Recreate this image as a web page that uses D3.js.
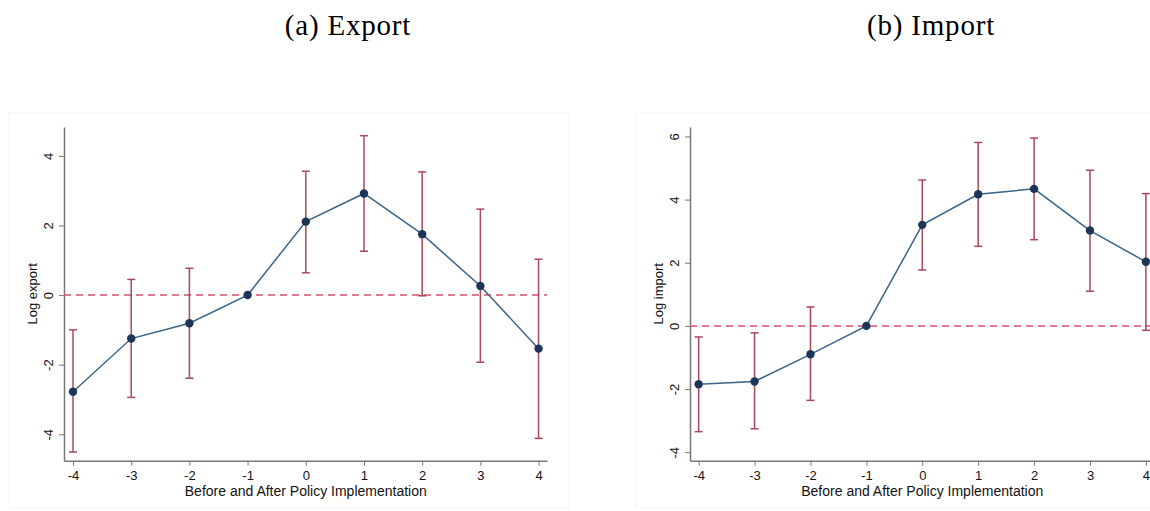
<!DOCTYPE html>
<html>
<head>
<meta charset="utf-8">
<script src="https://cdn.jsdelivr.net/npm/d3@7"></script>
<style>
body { margin: 0; background: #fff; }
svg text { font-family: "Liberation Sans", Arial, sans-serif; }
</style>
</head>
<body>
<svg id="chart" width="1150" height="511"></svg>
<script>
// periods relative to policy
var periods = [-4, -3, -2, -1, 0, 1, 2, 3, 4];

var exportCoef = [-2.78, -1.25, -0.81, 0, 2.11, 2.92, 1.75, 0.26, -1.54];
var exportLow  = [-4.51, -2.94, -2.39, 0, 0.64, 1.26, -0.02, -1.93, -4.12];
var exportHigh = [-1.00, 0.45, 0.77, 0, 3.56, 4.58, 3.54, 2.47, 1.03];

var importCoef = [-1.85, -1.76, -0.90, 0, 3.20, 4.17, 4.34, 3.02, 2.03];
var importLow  = [-3.35, -3.26, -2.36, 0, 1.77, 2.52, 2.73, 1.10, -0.14];
var importHigh = [-0.35, -0.22, 0.60, 0, 4.62, 5.81, 5.95, 4.93, 4.19];

var exportTicks = [-4, -2, 0, 2, 4];
var importTicks = [-4, -2, 0, 2, 4, 6];

var svg = d3.select("#chart");
var plain = d => String(d); // hyphen minus like stata

function panel(opt) {
	var g = svg.append("g");

	// faint outer graph region
	g.append("rect")
		.attr("x", opt.box[0]).attr("y", opt.box[1])
		.attr("width", opt.box[2]).attr("height", opt.box[3])
		.attr("fill", "none").attr("stroke", "#f4f4f4");

	var x = d3.scaleLinear().domain([-4.155, 4.145]).range([opt.left, opt.right]);
	var y = d3.scaleLinear().domain(opt.ydom).range([460.7, 127]);

	var xAxis = d3.axisBottom(x).tickValues(periods).tickFormat(plain).tickSize(5).tickSizeOuter(0).tickPadding(5);
	var yAxis = d3.axisLeft(y).tickValues(opt.ticks).tickFormat(plain).tickSize(5).tickSizeOuter(0);

	var gx = g.append("g")
		.attr("transform", `translate(0, ${y.range()[0]})`)
		.call(xAxis);
	gx.select(".domain").attr("stroke", "#777").attr("stroke-width", 1.5);
	gx.selectAll(".tick line").attr("stroke", "#777");
	gx.selectAll("text").attr("font-size", 13).attr("fill", "#111");

	var gy = g.append("g")
		.attr("transform", `translate(${opt.left}, 0)`)
		.call(yAxis);
	gy.select(".domain").attr("stroke", "#777").attr("stroke-width", 1.5);
	gy.selectAll(".tick line").attr("stroke", "#777");
	gy.selectAll("text")	// stata style vertical labels
		.attr("font-size", 13).attr("fill", "#111")
		.attr("text-anchor", "middle")
		.attr("x", 0).attr("y", 0).attr("dy", "0")
		.attr("transform", "translate(-11, 0) rotate(-90)");

	// zero reference line
	g.append("line")
		.attr("x1", opt.left).attr("x2", opt.right)
		.attr("y1", y(0)).attr("y2", y(0))
		.attr("stroke", "#d5506a").attr("stroke-width", 1.5)
		.attr("stroke-dasharray", "7,5");

	// confidence intervals
	var ci = g.append("g").attr("stroke", "#a8495a").attr("stroke-width", 1.5).attr("fill", "none");
	periods.forEach(function(p, i) {
		if (opt.low[i] === opt.high[i]) return;
		ci.append("line").attr("x1", x(p)).attr("x2", x(p))
			.attr("y1", y(opt.low[i])).attr("y2", y(opt.high[i]));
		[opt.low[i], opt.high[i]].forEach(function(v) {
			ci.append("line").attr("x1", x(p) - 4).attr("x2", x(p) + 4)
				.attr("y1", y(v)).attr("y2", y(v));
		});
	});

	var line = d3.line().x((d, i) => x(periods[i])).y(d => y(d));
	g.append("path").datum(opt.coef)
		.attr("d", line)
		.attr("fill", "none").attr("stroke", "#3a6488").attr("stroke-width", 1.5);

	g.selectAll("circle.pt").data(opt.coef).enter().append("circle")
		.attr("cx", (d, i) => x(periods[i]))
		.attr("cy", d => y(d))
		.attr("r", 4.2)
		.attr("fill", "#1c3557");

	g.append("text")
		.attr("transform", `translate(${opt.left - 27}, ${(y.range()[0] + y.range()[1]) / 2}) rotate(-90)`)
		.attr("text-anchor", "middle")
		.attr("font-size", 13).attr("fill", "#111")
		.text(opt.ylabel);

	g.append("text")
		.attr("x", x(0)).attr("y", 496)
		.attr("text-anchor", "middle")
		.attr("font-size", 14).attr("fill", "#111")
		.text("Before and After Policy Implementation");

	svg.append("text")
		.attr("x", opt.titleX).attr("y", 35)
		.attr("text-anchor", "middle")
		.style("font-family", "'Liberation Serif', 'Times New Roman', serif")
		.style("letter-spacing", "0.8px")
		.attr("font-size", 29).attr("fill", "#000")
		.text(opt.title);
}

panel({
	left: 64, right: 547, ydom: [-4.76, 4.83], ticks: exportTicks,
	coef: exportCoef, low: exportLow, high: exportHigh,
	ylabel: "Log export", title: "(a) Export", titleX: 348,
	box: [9, 113, 560, 395]
});

panel({
	left: 690, right: 1154, ydom: [-4.27, 6.3], ticks: importTicks,
	coef: importCoef, low: importLow, high: importHigh,
	ylabel: "Log import", title: "(b) Import", titleX: 931,
	box: [636, 113, 520, 395]
});
</script>
</body>
</html>
